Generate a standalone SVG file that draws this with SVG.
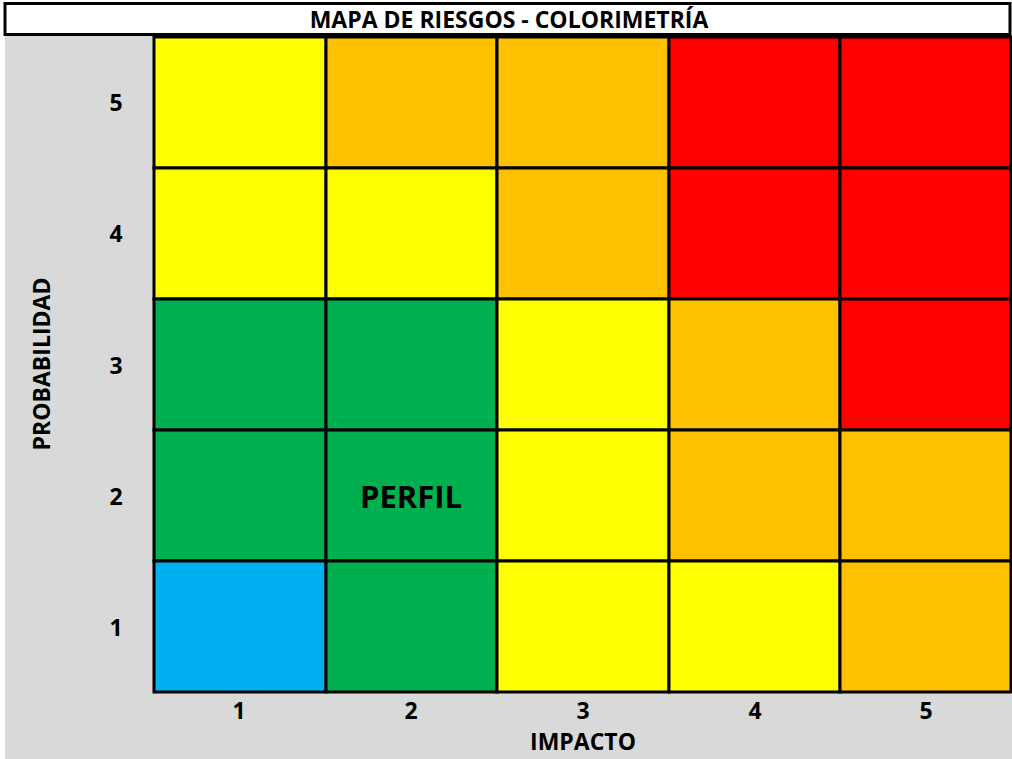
<svg xmlns="http://www.w3.org/2000/svg" width="1012" height="759" viewBox="0 0 1012 759">
<style>
.t{font-family:"Open Sans",Lato,"Liberation Sans",sans-serif;font-weight:bold;fill:#000}
.l{font-size:23px;text-anchor:middle}
.c{stroke:#000;stroke-width:3}
.Y{fill:#FFFF00}.O{fill:#FFC000}.R{fill:#FF0000}.G{fill:#00B050}.B{fill:#00B0F0}
</style>
<rect x="0" y="0" width="1012" height="759" fill="#fff"/>
<rect x="5" y="36" width="1007" height="723" fill="#D9D9D9"/>
<g id="title">
<rect x="5" y="3.5" width="1005" height="31" fill="#fff" stroke="#000" stroke-width="3"/>
<text class="t" x="509" y="28" font-size="23" text-anchor="middle">MAPA DE RIESGOS - COLORIMETRÍA</text>
</g>
<g id="grid">
<rect id="c5-1" class="c Y" x="154" y="37" width="172" height="131"/>
<rect id="c5-2" class="c O" x="326" y="37" width="171" height="131"/>
<rect id="c5-3" class="c O" x="497" y="37" width="172" height="131"/>
<rect id="c5-4" class="c R" x="669" y="37" width="171" height="131"/>
<rect id="c5-5" class="c R" x="840" y="37" width="171" height="131"/>
<rect id="c4-1" class="c Y" x="154" y="168" width="172" height="131"/>
<rect id="c4-2" class="c Y" x="326" y="168" width="171" height="131"/>
<rect id="c4-3" class="c O" x="497" y="168" width="172" height="131"/>
<rect id="c4-4" class="c R" x="669" y="168" width="171" height="131"/>
<rect id="c4-5" class="c R" x="840" y="168" width="171" height="131"/>
<rect id="c3-1" class="c G" x="154" y="299" width="172" height="131"/>
<rect id="c3-2" class="c G" x="326" y="299" width="171" height="131"/>
<rect id="c3-3" class="c Y" x="497" y="299" width="172" height="131"/>
<rect id="c3-4" class="c O" x="669" y="299" width="171" height="131"/>
<rect id="c3-5" class="c R" x="840" y="299" width="171" height="131"/>
<rect id="c2-1" class="c G" x="154" y="430" width="172" height="131"/>
<rect id="c2-2" class="c G" x="326" y="430" width="171" height="131"/>
<rect id="c2-3" class="c Y" x="497" y="430" width="172" height="131"/>
<rect id="c2-4" class="c O" x="669" y="430" width="171" height="131"/>
<rect id="c2-5" class="c O" x="840" y="430" width="171" height="131"/>
<rect id="c1-1" class="c B" x="154" y="561" width="172" height="131"/>
<rect id="c1-2" class="c G" x="326" y="561" width="171" height="131"/>
<rect id="c1-3" class="c Y" x="497" y="561" width="172" height="131"/>
<rect id="c1-4" class="c Y" x="669" y="561" width="171" height="131"/>
<rect id="c1-5" class="c O" x="840" y="561" width="171" height="131"/>
<text class="t" x="411" y="508" font-size="31" text-anchor="middle">PERFIL</text>
</g>
<g id="yaxis">
<text class="t l" x="116" y="111">5</text>
<text class="t l" x="116" y="242">4</text>
<text class="t l" x="116" y="374">3</text>
<text class="t l" x="116" y="505">2</text>
<text class="t l" x="116" y="636">1</text>
<text class="t l" transform="translate(50,364) rotate(-90)">PROBABILIDAD</text>
</g>
<g id="xaxis">
<text class="t l" x="239" y="719">1</text>
<text class="t l" x="411" y="719">2</text>
<text class="t l" x="583" y="719">3</text>
<text class="t l" x="755" y="719">4</text>
<text class="t l" x="926" y="719">5</text>
<text class="t l" x="583" y="750">IMPACTO</text>
</g>
</svg>
